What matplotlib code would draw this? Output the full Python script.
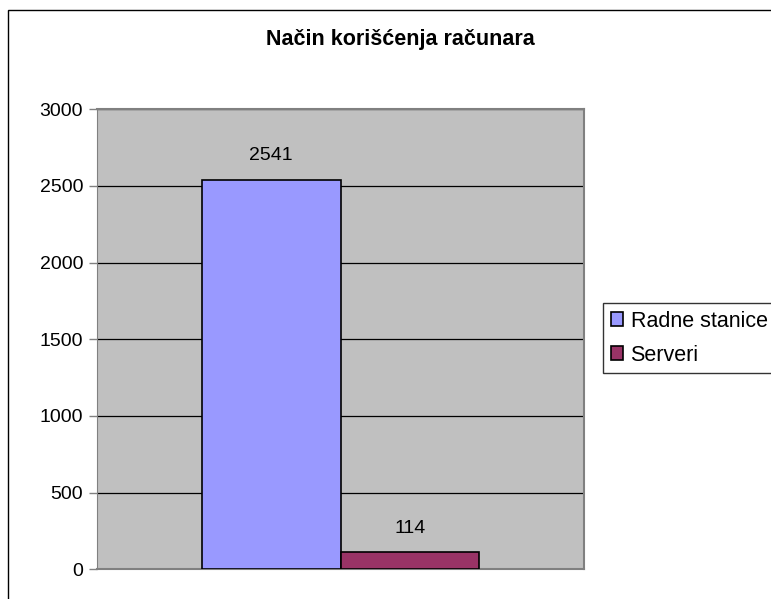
import matplotlib
matplotlib.use("Agg")
import matplotlib.pyplot as plt
from matplotlib.patches import Rectangle

title = "Način korišćenja računara"
series_names = ["Radne stanice", "Serveri"]
values = [2541, 114]
colors = ["#9999FF", "#993366"]
yticks = [0, 500, 1000, 1500, 2000, 2500, 3000]

plt.rcParams['font.family'] = ['Liberation Sans', 'DejaVu Sans']

fig = plt.figure(figsize=(7.71, 5.99), dpi=100)
fig.patch.set_facecolor("white")
# outer chart border (extends beyond right/bottom edge)
fig.patches.append(Rectangle((8/771, -0.2), 1.2, 1 - 10/599 + 0.2, transform=fig.transFigure,
                             fill=False, edgecolor="black", linewidth=1.0))

ax = fig.add_axes([97/771, (599-569.3)/599, (584-97)/771, (569.3-109.3)/599])
ax.set_facecolor("#C0C0C0")

w = 0.285
offsets = [-w/2, w/2]
handles = []
for name, v, c, off in zip(series_names, values, colors, offsets):
    b = ax.bar(off, v, width=w, color=c, edgecolor="black", linewidth=1.2, label=name, zorder=3)
    handles.append(b)
    ax.annotate(str(v), (off, v), xytext=(0, 11), textcoords="offset points",
                ha="center", va="bottom", fontsize=14, zorder=4)

ax.set_xlim(-0.5, 0.5)
ax.set_ylim(0, 3000)
ax.set_yticks(yticks)
ax.set_yticklabels([str(t) for t in yticks], fontsize=14)
ax.set_xticks([])
ax.yaxis.grid(True, color="black", linewidth=0.9, zorder=1)
ax.set_axisbelow(True)
ax.tick_params(axis="y", length=6, width=1, color="#808080", pad=4)
for s in ["top", "right"]:
    ax.spines[s].set_color("#808080")
    ax.spines[s].set_linewidth(1.5)
ax.spines["left"].set_color("#808080")
ax.spines["bottom"].set_color("#808080")
ax.spines["bottom"].set_linewidth(1.5)

fig.text(400/771, 1 - 40/599, title, ha="center", va="center", fontsize=15.5, fontweight="bold")

leg = fig.legend(handles=handles, labels=series_names, loc="upper left",
                 bbox_to_anchor=(603/771, 1 - 303/599), fontsize=15.5, frameon=True,
                 fancybox=False, edgecolor="black", handlelength=0.6, handleheight=0.6,
                 handletextpad=0.33, borderpad=0.35, labelspacing=0.62, borderaxespad=0)
leg.get_frame().set_linewidth(1.0)

fig.savefig("out.png", dpi=100)
